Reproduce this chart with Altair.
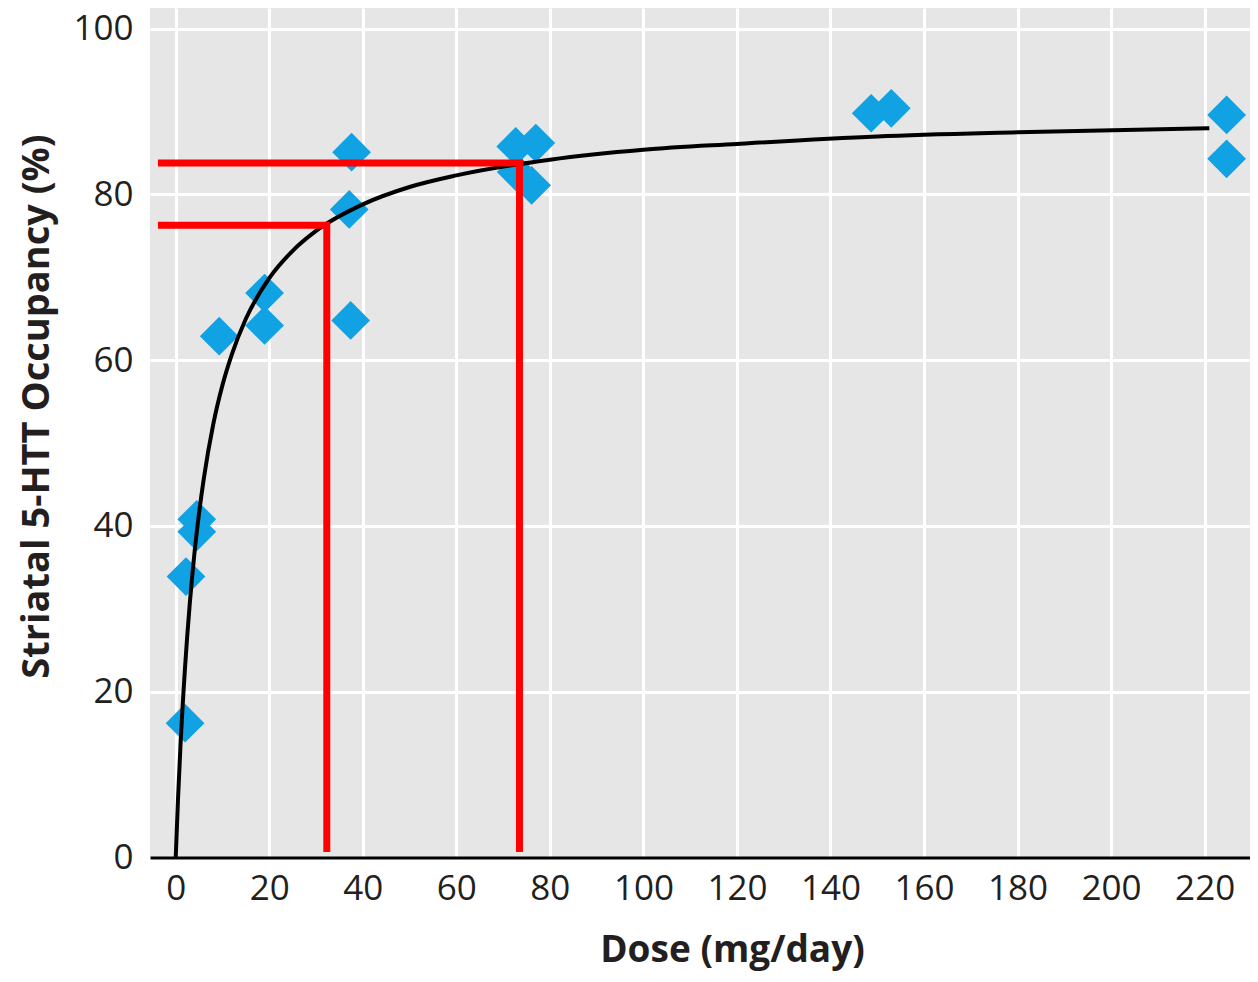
import altair as alt
import pandas as pd

# Observed occupancy points (dose mg/day, striatal 5-HTT occupancy %)
dose_pts = [2.0, 2.2, 4.5, 4.5, 9.3, 19.0, 19.0, 37.6, 37.1, 37.4,
            72.7, 77.0, 76.1, 72.8, 148.7, 153.0, 224.7, 224.7]
occ_pts = [16.2, 33.9, 40.8, 39.3, 62.9, 68.1, 64.2, 85.1, 78.2, 64.8,
           85.8, 86.2, 81.1, 82.7, 89.8, 90.4, 89.6, 84.3]

# Fitted curve
curve_dose = [0, 0.5, 1, 2, 3, 4, 5, 6, 8, 10, 12, 15, 20, 25, 30, 40, 50,
              60, 80, 100, 120, 150, 180, 221]
curve_occ = [0, 7.2, 13.3, 23.0, 30.6, 36.7, 41.6, 45.7, 52.2, 57.0, 60.7,
             65.0, 69.9, 73.2, 75.6, 78.8, 80.9, 82.3, 84.2, 85.4, 86.1,
             87.0, 87.5, 88.0]

# Red guide lines (two L-shaped paths)
guide_dose = [-3.8, 32.3, 32.3, -3.8, 73.5, 73.5]
guide_occ = [76.3, 76.3, 0.66, 83.8, 83.8, 0.66]
guide_group = ["a", "a", "a", "b", "b", "b"]
guide_order = [0, 1, 2, 0, 1, 2]

x_ticks = [0, 20, 40, 60, 80, 100, 120, 140, 160, 180, 200, 220]
y_ticks = [0, 20, 40, 60, 80, 100]

pts = pd.DataFrame({"dose": dose_pts, "occ": occ_pts})
curve = pd.DataFrame({"dose": curve_dose, "occ": curve_occ})
guides = pd.DataFrame({"dose": guide_dose, "occ": guide_occ,
                       "grp": guide_group, "ord": guide_order})

FONT = "Open Sans"
TXT = "#231f20"

xscale = alt.Scale(domain=[-5.5, 229.7], nice=False, zero=False)
yscale = alt.Scale(domain=[0, 102.5], nice=False, zero=False)

xaxis = alt.Axis(values=x_ticks, title="Dose (mg/day)", grid=True, ticks=False,
                 labelFlush=False, labelPadding=14, labelFont=FONT,
                 labelFontSize=35, labelColor=TXT, domain=True,
                 domainColor="black", domainWidth=3, titleFont=FONT,
                 titleFontSize=37, titleFontWeight="bold", titleColor=TXT,
                 titleX=582, titleY=93, titleBaseline="middle",
                 gridColor="white", gridWidth=3, gridOpacity=1)
yaxis = alt.Axis(values=y_ticks, title="Striatal 5-HTT Occupancy (%)",
                 grid=True, ticks=False, domain=False, labelFlush=False,
                 labelPadding=17, labelFont=FONT, labelFontSize=35,
                 labelColor=TXT, titleFont=FONT, titleFontSize=38,
                 titleFontWeight="bold", titleColor=TXT, titleX=-113,
                 titleY=398, titleBaseline="middle", gridColor="white",
                 gridWidth=3, gridOpacity=1)

points = alt.Chart(pts).mark_point(shape="diamond", filled=True, size=1500,
                                   color="#10A2E3", opacity=1).encode(
    x=alt.X("dose:Q", scale=xscale, axis=xaxis),
    y=alt.Y("occ:Q", scale=yscale, axis=yaxis),
)

line = alt.Chart(curve).mark_line(color="black", strokeWidth=4,
                                  interpolate="monotone").encode(
    x=alt.X("dose:Q", scale=xscale),
    y=alt.Y("occ:Q", scale=yscale),
)

red = alt.Chart(guides).mark_line(color="#FF0000", strokeWidth=7,
                                  strokeJoin="miter", strokeCap="butt").encode(
    x=alt.X("dose:Q", scale=xscale),
    y=alt.Y("occ:Q", scale=yscale),
    detail="grp:N",
    order="ord:Q",
)

chart = alt.layer(points, line, red).properties(
    width=1100, height=849.5,
    autosize=alt.AutoSizeParams(type="none"),
    padding={"left": 142, "top": 0, "right": 0, "bottom": 116},
    background="white",
).configure_view(fill="#E6E6E6", strokeWidth=0)

chart.save("out.html", embed_options={"renderer": "svg", "actions": False})
